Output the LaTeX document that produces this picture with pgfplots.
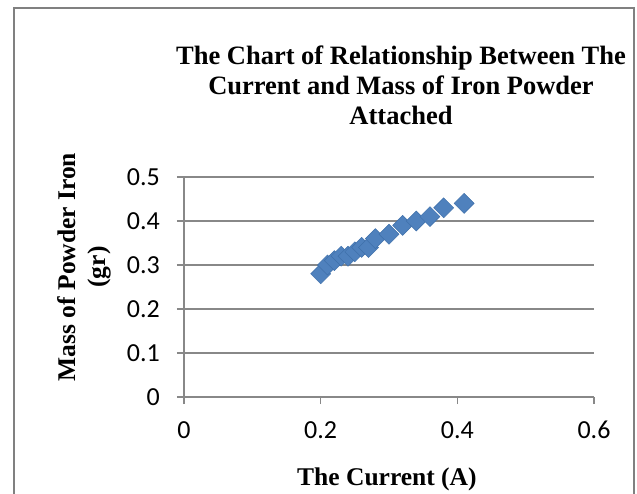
\documentclass[border=0pt]{standalone}
\usepackage{fontspec}
\setmainfont{Liberation Serif}
\newfontfamily\calibri{Carlito}
\usepackage{pgfplots}
\pgfplotsset{compat=1.18}
\definecolor{gridgray}{HTML}{888888}
\definecolor{framegray}{HTML}{808080}
\definecolor{mblue}{HTML}{4F81BD}
\definecolor{mblueedge}{HTML}{3F70AA}
\begin{document}
\begin{tikzpicture}[x=1pt,y=1pt]
\useasboundingbox (-184,-96) rectangle (453,397);
\draw[framegray, line width=2pt] (-170,-100) -- (-170,389) -- (450,389) -- (450,-100);
\node[anchor=base, font=\bfseries\fontsize{26.5}{30}\selectfont] at (217,332) {The Chart of Relationship Between The};
\node[anchor=base, font=\bfseries\fontsize{26.5}{30}\selectfont] at (217,302) {Current and Mass of Iron Powder};
\node[anchor=base, font=\bfseries\fontsize{26.5}{30}\selectfont] at (217,272) {Attached};
\begin{axis}[
  at={(0,0)}, anchor=south west,
  scale only axis, width=410pt, height=220pt,
  xmin=0, xmax=0.6, ymin=0, ymax=0.5,
  axis lines=left, axis line style={draw=gridgray, line width=1.3pt, -},
  ymajorgrids, grid style={gridgray, line width=1.3pt},
  xtick={0,0.2,0.4,0.6}, ytick={0,0.1,0.2,0.3,0.4,0.5},
  tick align=outside, major tick length=7pt,
  tick style={gridgray, line width=1.3pt},
  /pgf/number format/assume math mode=true,
  ticklabel style={font=\calibri\fontsize{26}{30}\selectfont},
  yticklabel style={anchor=east, inner sep=0pt, xshift=-17pt},
  xticklabel style={anchor=base, inner sep=0pt, yshift=-34pt},
  xlabel={The Current (A)},
  xlabel style={font=\bfseries\fontsize{25.5}{30}\selectfont, at={(axis description cs:0.495,-0.4)}, anchor=base},
  ylabel={Mass of Powder Iron\\(gr)},
  ylabel style={font=\bfseries\fontsize{25.5}{30}\selectfont, align=center, at={(axis description cs:-0.2439,0.5909)}, anchor=center},
  clip=false,
]
\addplot[only marks, mark=square*, mark size=7.07pt,
  mark options={fill=mblue, draw=mblueedge, line width=0.5pt, rotate=45}]
coordinates {
(0.20,0.28) (0.21,0.30) (0.22,0.31) (0.23,0.32) (0.24,0.32)
(0.25,0.33) (0.26,0.34) (0.27,0.34) (0.28,0.36) (0.30,0.37)
(0.32,0.39) (0.34,0.40) (0.36,0.41) (0.38,0.43) (0.41,0.44)
};
\end{axis}
\end{tikzpicture}
\end{document}
